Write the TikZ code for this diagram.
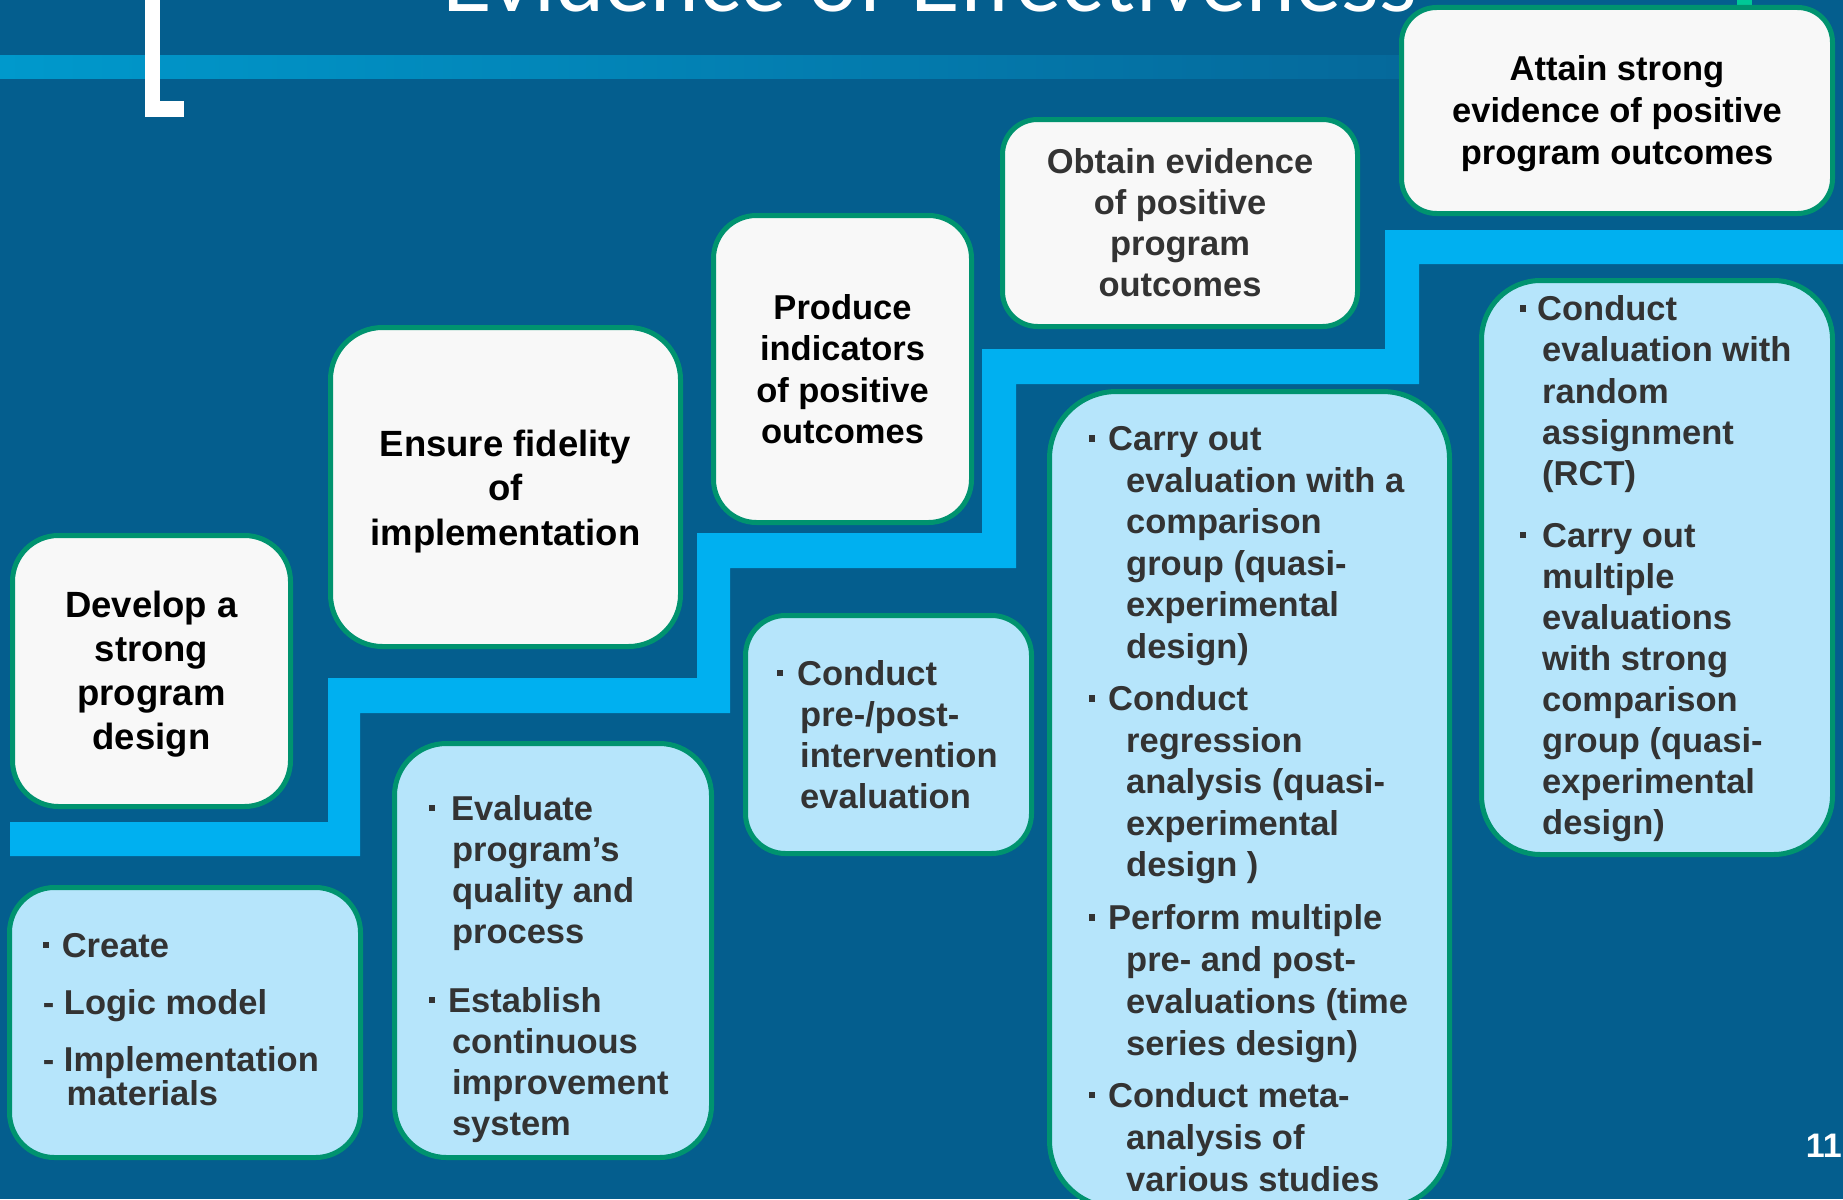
\documentclass[tikz,border=0pt]{standalone}
\usepackage{graphicx}
\usepackage{fontspec}
\setmainfont{Liberation Sans}
\newfontfamily\titlefont{Lato}
\definecolor{bg}{HTML}{045E8E}
\definecolor{bandL}{HTML}{0099CC}
\definecolor{bandR}{HTML}{05699B}
\definecolor{stair}{HTML}{00B0F0}
\definecolor{bord}{HTML}{00936F}
\definecolor{wfill}{HTML}{F8F8F8}
\definecolor{bfill}{HTML}{B6E5FB}
\definecolor{tgray}{HTML}{333333}
\definecolor{markg}{HTML}{00C896}
\newcommand\cbox[1]{\vtop{\lineskiplimit=-100pt\halign{\hfil##\hfil\cr#1\crcr}}}
\newcommand\lbox[1]{\vtop{\lineskiplimit=-100pt\halign{##\hfil\cr#1\crcr}}}
\newcommand\blt{\rule[9pt]{6pt}{6.5pt}}
\tikzset{
  whitebox/.style={draw=bord, line width=5pt, fill=wfill, rectangle, inner sep=0pt},
  bluebox/.style={draw=bord, line width=5pt, fill=bfill, rectangle, inner sep=0pt},
  wtxt/.style={inner sep=0pt, anchor=base, text=black, font=\bfseries\fontsize{34.5}{41.5}\selectfont},
  btxt/.style={inner sep=0pt, anchor=base west, text=tgray, font=\bfseries\fontsize{34.5}{41.3}\selectfont},
}
\begin{document}
\begin{tikzpicture}[x=1pt,y=-1pt]
\useasboundingbox (0,0) rectangle (1843,1199);
\begin{scope}
\clip (0,0) rectangle (1843,1199);
\fill[bg] (0,0) rectangle (1843,1199);
% title (cut off at top)
\node[inner sep=0pt, anchor=base west, text=white, font=\titlefont] (title) at (441,12)
  {\resizebox{975pt}{!}{Evidence of Effectiveness}};
% top band
\shade[left color=bandL, right color=bandR] (0,56) rectangle (1400,78);
% white L bracket
\fill[white] (145,0) rectangle (160,117);
\fill[white] (145,101) rectangle (184,117);
\fill[markg] (1737,0) rectangle (1752,5);
% staircase
\fill[stair] (10,822) -- (328,822) -- (328,678) -- (697,678) -- (697,533) -- (982,533)
  -- (982,349) -- (1385,349) -- (1385,230) -- (1843,230) -- (1843,264) -- (1419,264)
  -- (1419,384) -- (1016,384) -- (1016,568) -- (730,568) -- (730,713) -- (360,713)
  -- (360,856) -- (10,856) -- cycle;
% white step boxes
\node[whitebox, minimum width=278pt, minimum height=271pt, rounded corners=46pt] (A) at (151.5,671) {};
\node[whitebox, minimum width=350pt, minimum height=319pt, rounded corners=52pt] (B) at (505.5,487) {};
\node[whitebox, minimum width=258pt, minimum height=307pt, rounded corners=43pt] (C) at (842.5,369) {};
\node[whitebox, minimum width=355pt, minimum height=207pt, rounded corners=35pt] (D) at (1180,223) {};
\node[whitebox, minimum width=431pt, minimum height=206pt, rounded corners=35pt] (E) at (1617,110.5) {};
% blue detail boxes
\node[bluebox, minimum width=351pt, minimum height=270pt, rounded corners=45pt] (F) at (185,1022.5) {};
\node[bluebox, minimum width=317pt, minimum height=414pt, rounded corners=52pt] (G) at (553,950.5) {};
\node[bluebox, minimum width=286pt, minimum height=238pt, rounded corners=40pt] (H) at (888.5,734.5) {};
\node[bluebox, minimum width=400pt, minimum height=816pt, rounded corners=67pt] (I) at (1249.5,799.5) {};
\node[bluebox, minimum width=351pt, minimum height=574pt, rounded corners=59pt] (J) at (1657,567.5) {};
% white box texts
\node[wtxt, font=\bfseries\fontsize{36.5}{44.3}\selectfont] (tA) at (151.5,617) {\cbox{Develop a\cr strong\cr program\cr design}};
\node[wtxt, font=\bfseries\fontsize{36.5}{44.5}\selectfont] (tB) at (505.5,456) {\cbox{Ensure fidelity\cr of\cr implementation}};
\node[wtxt, font=\bfseries\fontsize{34.5}{41.4}\selectfont] (tC) at (842.5,319.3) {\cbox{Produce\cr indicators\cr of positive\cr outcomes}};
\node[wtxt, text=tgray, font=\bfseries\fontsize{34.5}{41.2}\selectfont] (tD) at (1180,173.3) {\cbox{Obtain evidence\cr of positive\cr program\cr outcomes}};
\node[wtxt, font=\bfseries\fontsize{34.5}{42.5}\selectfont] (tE) at (1617,80) {\cbox{Attain strong\cr evidence of positive\cr program outcomes}};
% blue box texts
\node[btxt] (F1) at (43,957.3) {\lbox{\blt\hspace{12.6pt}Create}};
\node[btxt] (F2) at (42.7,1014) {\lbox{- Logic model}};
\node[btxt, font=\bfseries\fontsize{34.5}{33.4}\selectfont] (F3) at (42.7,1071.7) {\lbox{- Implementation\cr\hspace{23.7pt}materials}};
\node[btxt, font=\bfseries\fontsize{34.5}{41.1}\selectfont] (G1) at (429,820) {\lbox{\blt\hspace{16pt}Evaluate\cr\hspace{22.8pt}program’s\cr\hspace{22.8pt}quality and\cr\hspace{22.8pt}process}};
\node[btxt, font=\bfseries\fontsize{34.5}{40.9}\selectfont] (G2) at (429,1012.3) {\lbox{\blt\hspace{13pt}Establish\cr\hspace{22.8pt}continuous\cr\hspace{22.8pt}improvement\cr\hspace{22.8pt}system}};
\node[btxt, font=\bfseries\fontsize{34.5}{41.1}\selectfont] (H1) at (777,685) {\lbox{\blt\hspace{14pt}Conduct\cr\hspace{23pt}pre-/post-\cr\hspace{23pt}intervention\cr\hspace{23pt}evaluation}};
\node[btxt, font=\bfseries\fontsize{34.5}{41.6}\selectfont] (I1) at (1089,450.5) {\lbox{\blt\hspace{13pt}Carry out\cr\hspace{37pt}evaluation with a\cr\hspace{37pt}comparison\cr\hspace{37pt}group (quasi-\cr\hspace{37pt}experimental\cr\hspace{37pt}design)}};
\node[btxt, font=\bfseries\fontsize{34.5}{41.6}\selectfont] (I2) at (1089,710.5) {\lbox{\blt\hspace{13pt}Conduct\cr\hspace{37pt}regression\cr\hspace{37pt}analysis (quasi-\cr\hspace{37pt}experimental\cr\hspace{37pt}design )}};
\node[btxt, font=\bfseries\fontsize{34.5}{41.8}\selectfont] (I3) at (1089,929.9) {\lbox{\blt\hspace{13pt}Perform multiple\cr\hspace{37pt}pre- and post-\cr\hspace{37pt}evaluations (time\cr\hspace{37pt}series design)}};
\node[btxt, font=\bfseries\fontsize{34.5}{41.8}\selectfont] (I4) at (1089,1107.4) {\lbox{\blt\hspace{13pt}Conduct meta-\cr\hspace{37pt}analysis of\cr\hspace{37pt}various studies}};
\node[btxt] (J1) at (1520,320.5) {\lbox{\blt\hspace{11pt}Conduct\cr\hspace{22pt}evaluation with\cr\hspace{22pt}random\cr\hspace{22pt}assignment\cr\hspace{22pt}(RCT)}};
\node[btxt, font=\bfseries\fontsize{34.5}{41.1}\selectfont] (J2) at (1520,547) {\lbox{\blt\hspace{16pt}Carry out\cr\hspace{22pt}multiple\cr\hspace{22pt}evaluations\cr\hspace{22pt}with strong\cr\hspace{22pt}comparison\cr\hspace{22pt}group (quasi-\cr\hspace{22pt}experimental\cr\hspace{22pt}design)}};
% page number
\node[inner sep=0pt, anchor=base east, text=white, font=\bfseries\fontsize{34}{40}\selectfont] (num) at (1842,1157) {11};
\end{scope}
\end{tikzpicture}
\end{document}
